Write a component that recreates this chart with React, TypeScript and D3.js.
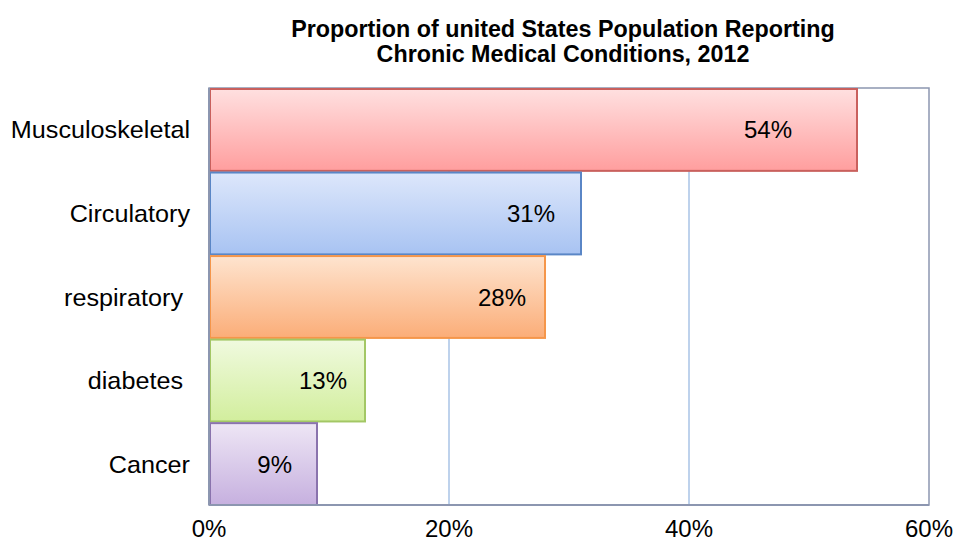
import React from "react";
import * as d3 from "d3";

const categories = ["Musculoskeletal", "Circulatory", "respiratory ", "diabetes ", "Cancer"];
const values = [54, 31, 28, 13, 9];
const tickValues = [0, 20, 40, 60];
const titleLines = ["Proportion of united States Population Reporting", "Chronic Medical Conditions, 2012"];

const fills = [
  ["#ffe0e0", "#ff9e9e", "#c9605d"],
  ["#dde7fb", "#a8c3f2", "#5a86c6"],
  ["#fee4cf", "#fbad78", "#f5964a"],
  ["#f0fadf", "#d2ee9d", "#a3c765"],
  ["#eee6f5", "#c6b0df", "#8a73ad"],
];
const labelInset = [65, 26, 19, 18, 25];

export default function App() {
  const W = 954, H = 542;
  const left = 209, right = 929, top = 88, bottom = 505;
  const x = d3.scaleLinear().domain([0, 60]).range([left, right]);
  const y = d3.scaleBand<string>().domain(categories).range([top + 1, bottom]).paddingInner(0.02);
  const font = "Arial, 'Liberation Sans', sans-serif";
  return (
    <svg width={W} height={H} style={{ position: "absolute", left: 0, top: 0 }} fontFamily={font}>
      <defs>
        {fills.map((f, i) => (
          <linearGradient key={i} id={`g${i}`} x1="0" y1="0" x2="0" y2="1">
            <stop offset="0" stopColor={f[0]} />
            <stop offset="1" stopColor={f[1]} />
          </linearGradient>
        ))}
      </defs>
      <rect width={W} height={H} fill="#fff" />
      {titleLines.map((t, i) => (
        <text key={i} x={563} y={37 + i * 24.5} textAnchor="middle" fontSize={23.3} fontWeight="bold" fill="#000">{t}</text>
      ))}
      {tickValues.slice(1, -1).map((t) => (
        <line key={t} x1={x(t)} x2={x(t)} y1={top} y2={bottom} stroke="#a9c3e6" strokeWidth={1.5} />
      ))}
      <rect x={left} y={top} width={right - left} height={bottom - top} fill="none" stroke="#8c96b0" strokeWidth={1.5} />
      {categories.map((c, i) => {
        const y0 = y(c)!;
        const bw = y.bandwidth();
        const x1 = x(values[i]);
        const cy = y0 + bw / 2;
        return (
          <g key={c}>
            <rect x={left + 1} y={y0} width={x1 - left - 1} height={bw} fill={`url(#g${i})`} stroke={fills[i][2]} strokeWidth={2} />
            <text x={x1 - labelInset[i]} y={cy + 8.5} textAnchor="end" fontSize={24} fill="#000">{values[i]}%</text>
            <g transform={`translate(190,${cy + 8.5}) scale(1.05,1)`}>
              <text x={0} y={0} textAnchor="end" fontSize={24} fill="#000" style={{ whiteSpace: "pre" }}>{c}</text>
            </g>
          </g>
        );
      })}
      <line x1={left} x2={right} y1={bottom} y2={bottom} stroke="#8c96b0" strokeWidth={2} />
      <line x1={left} x2={left} y1={top} y2={bottom} stroke="#8c96b0" strokeWidth={2} />
      {tickValues.map((t) => (
        <text key={t} x={x(t)} y={537} textAnchor="middle" fontSize={24} fill="#000">{t}%</text>
      ))}
    </svg>
  );
}
